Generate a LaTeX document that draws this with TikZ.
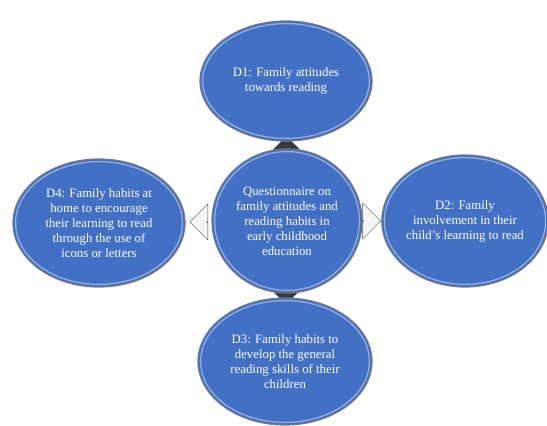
\documentclass[tikz,border=0pt]{standalone}
\usepackage{fontspec}
\setmainfont{Liberation Serif}
\usetikzlibrary{calc,positioning,shapes.geometric,shapes.arrows,backgrounds}
\definecolor{dimblue}{RGB}{66,112,197}
\definecolor{rimblue}{RGB}{165,190,235}
\definecolor{rimgray}{RGB}{115,120,130}

\begin{document}
\begin{tikzpicture}[x=1pt,y=-1pt]

\tikzstyle{dimnode} = [ellipse,draw=rimgray,line width=1.2pt,fill=dimblue,inner sep=0,align=center,text=white,font=\fontsize{12.8}{15}\selectfont,
    path picture={\draw[rimblue,line width=1.3pt,opacity=0.8] let \p1=($(path picture bounding box.north east)-(path picture bounding box.center)$) in (path picture bounding box.center) ellipse [x radius=\x1-2.6pt,y radius=\y1-2.6pt];}]%
\tikzstyle{dimarrow} = [single arrow,draw=gray!60!black,fill=gray!8,inner sep=0,minimum height=17pt,minimum width=36pt,single arrow head extend=9pt]%
\tikzstyle{dimstub} = [dimarrow,minimum width=30pt,fill=gray!45!black,draw=black!75]%

\useasboundingbox (0,0) rectangle (547,426);

\node[dimnode,minimum width=150pt,minimum height=144pt] (quest) at (287, 221) {Questionnaire on\\family attitudes and\\reading habits in\\early childhood\\education};
\node[dimnode,minimum width=172pt,minimum height=120pt] (dimA) at (286, 81) {D1: Family attitudes\\towards reading};
\node[dimnode,minimum width=162pt,minimum height=132pt] (dimB) at (465, 221) {D2: Family\\involvement in their\\child's learning to read};
\node[dimnode,minimum width=174pt,minimum height=127pt] (dimC) at (285, 361.5) {D3: Family habits to\\develop the general\\reading skills of their\\children};
\node[dimnode,minimum width=172pt,minimum height=128pt] (dimD) at (99, 223) {D4: Family habits at\\home to encourage\\their learning to read\\through the use of\\icons or letters};

\begin{scope}[on background layer]
\node[dimstub,shape border rotate=90] (toA) at ($(quest.north)!0.5!(dimA.south)$) {};
\node[dimstub,shape border rotate=270] (toC) at ($(quest.south)!0.5!(dimC.north)$) {};
\end{scope}
\node[dimarrow] (toB) at ($(quest.east)!0.5!(dimB.west)$) {};
\node[dimarrow,shape border rotate=180] (toD) at ($(quest.west)!0.5!(dimD.east)$) {};

\end{tikzpicture}
\end{document}
